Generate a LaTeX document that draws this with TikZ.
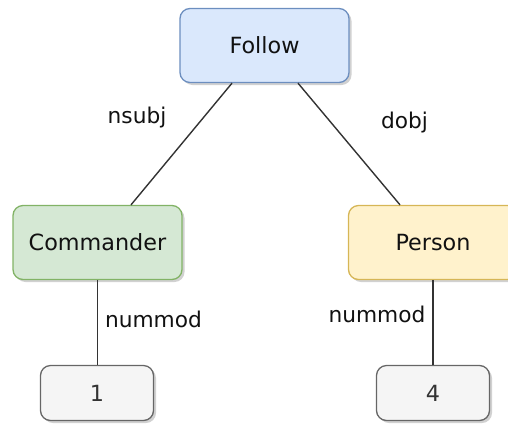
\documentclass[tikz,border=0pt]{standalone}
\usepackage{fontspec}
\setmainfont{DejaVu Sans}
\usetikzlibrary{shadows}
\definecolor{bluefill}{HTML}{DAE8FC}\definecolor{bluedraw}{HTML}{6C8EBF}
\definecolor{greenfill}{HTML}{D5E8D4}\definecolor{greendraw}{HTML}{82B366}
\definecolor{yellowfill}{HTML}{FFF2CC}\definecolor{yellowdraw}{HTML}{D6B656}
\definecolor{grayfill}{HTML}{F5F5F5}\definecolor{graydraw}{HTML}{666666}
\definecolor{txt}{HTML}{111111}\definecolor{txtgray}{HTML}{333333}
\begin{document}
\begin{tikzpicture}[x=1pt,y=-1pt,
  box/.style={rounded corners=10pt, line width=1.3pt, inner sep=0pt,
    font=\fontsize{22.3}{24}\selectfont, text=txt,
    drop shadow={shadow xshift=2.5pt, shadow yshift=-2.5pt, fill=black, opacity=0.18}},
  bigbox/.style={box, minimum width=169pt, minimum height=74pt},
  smallbox/.style={box, minimum width=113pt, minimum height=55pt, fill=grayfill, draw=graydraw, text=txtgray},
  edge/.style={line width=1.4pt, draw=black!80},
  lbl/.style={font=\fontsize{21.7}{24}\selectfont, text=txt, anchor=base, inner sep=0pt}]
\useasboundingbox (0,0) rectangle (508,424);
\node[bigbox, fill=bluefill, draw=bluedraw] (follow) at (264.5,45.5) {Follow};
\node[bigbox, fill=greenfill, draw=greendraw] (cmd) at (97.5,242.5) {Commander};
\node[bigbox, fill=yellowfill, draw=yellowdraw] (person) at (433,242.5) {Person};
\node[smallbox] (one) at (97,393) {1};
\node[smallbox] (four) at (433,393) {4};
\draw[edge] ([xshift=-32.5pt]follow.south) -- ([xshift=33.5pt]cmd.north);
\draw[edge] ([xshift=33.5pt]follow.south) -- ([xshift=-33pt]person.north);
\draw[edge] (cmd.south) -- (cmd.south |- one.north);
\draw[edge] (person.south) -- (person.south |- four.north);
\node[lbl] (l1) at (137,123) {nsubj};
\node[lbl] (l2) at (404.5,128) {dobj};
\node[lbl] (l3) at (153.5,327) {nummod};
\node[lbl] (l4) at (377,322) {nummod};
\end{tikzpicture}
\end{document}
